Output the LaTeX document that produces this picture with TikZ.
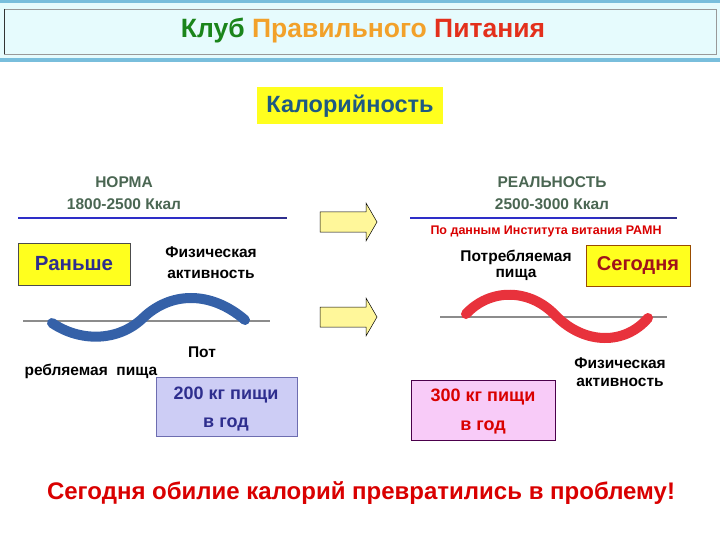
\documentclass[tikz,border=0pt]{standalone}
\usepackage{fontspec}
\setmainfont{Liberation Sans}

\definecolor{bandbg}{HTML}{E6FBFD}
\definecolor{bandline}{HTML}{79BEDC}
\definecolor{klubgreen}{HTML}{1B851B}
\definecolor{kluborange}{HTML}{F2A12A}
\definecolor{klubred}{HTML}{E3301C}
\definecolor{kaltext}{HTML}{1E5A82}
\definecolor{headgray}{HTML}{4A6652}
\definecolor{normblue}{HTML}{2E2EC8}
\definecolor{normdark}{HTML}{2E2E8E}
\definecolor{wblue}{HTML}{3561A8}
\definecolor{wred}{HTML}{E8323C}
\definecolor{boxyellow}{HTML}{FFFF1E}
\definecolor{arrowyellow}{HTML}{FFF79A}
\definecolor{lavender}{HTML}{CDCDF5}
\definecolor{pinkbox}{HTML}{F8CBF8}
\definecolor{darkred}{HTML}{A0121A}

\tikzset{
  big/.style={font=\fontsize{24}{28}\selectfont\bfseries},
  label15/.style={font=\fontsize{15.5}{18}\selectfont\bfseries},
  head15/.style={font=\fontsize{15.5}{18}\selectfont\bfseries, text=headgray},
  boxtext/.style={font=\fontsize{18}{21}\selectfont\bfseries},
  yellowbox/.style={draw=black!70, fill=boxyellow, line width=0.6pt},
  blockarrow/.style={draw=black, fill=arrowyellow, line width=0.5pt, line join=miter},
  foodbox/.style={draw=#1, line width=0.8pt},
}

\begin{document}
\begin{tikzpicture}[x=1pt, y=-1pt]
\useasboundingbox (0,0) rectangle (720,540);

% title band
\fill[bandbg] (0,0) rectangle (720,62);
\draw[bandline, line width=3pt] (0,2)--(720,2);
\draw[bandline, line width=4pt] (0,60)--(720,60);
\draw[black!40, line width=0.8pt] (4,9) rectangle (716,54);
\draw[black!80, line width=1pt] (4,9)--(4,54);
\node[font=\fontsize{26.5}{30}\selectfont\bfseries] (title) at (363,31)
  {\textcolor{klubgreen}{Клуб} \textcolor{kluborange}{Правильного} \textcolor{klubred}{Питания}};

\node[fill=boxyellow, minimum width=186pt, minimum height=37pt,
  font=\fontsize{23.5}{27}\selectfont\bfseries, text=kaltext] (kal) at (350,106) {Калорийность};

% norma / realnost
\node[head15] (norma) at (124,182) {НОРМА};
\node[head15] (normakcal) at (124,204) {1800-2500 Ккал};
\draw[normblue, line width=1.5pt] (18,218)--(212,218);
\draw[normdark, line width=2.8pt] (210,218)--(287,218);

\node[head15] (real) at (552,182) {РЕАЛЬНОСТЬ};
\node[head15] (realkcal) at (552,204) {2500-3000 Ккал};
\draw[normblue, line width=1.5pt] (410,218)--(602,218);
\draw[normdark, line width=2.8pt] (600,218)--(677,218);
\node[font=\fontsize{12.5}{15}\selectfont\bfseries, text=red!85!black] (ramn) at (546,231) {По данным Института витания РАМН};

% arrows
\draw[blockarrow] (320,212)--(366,212)--(366,203)--(377,222)--(366,241)--(366,232)--(320,232)--cycle;
\draw[blockarrow] (320,307)--(366,307)--(366,298)--(377,317)--(366,336)--(366,327)--(320,327)--cycle;

% left side
\node[yellowbox, minimum width=112pt, minimum height=42pt,
  font=\fontsize{20.5}{24}\selectfont\bfseries, text=normdark] (before) at (74,264) {Раньше};
\node[label15] (phys1) at (211,252) {Физическая};
\node[label15] (phys1b) at (211,274) {активность};

\draw[black!45, line width=2.5pt] (23,321)--(270,321);
\draw[wblue, line width=10pt, line cap=round]
  (52,323) .. controls (80,342) and (118,342) .. (143,318)
  .. controls (170,292) and (210,290) .. (245,320);

\node[label15] (sweat) at (202,352) {Пот};
\node[label15, anchor=west] (food1) at (21,371) {ребляемая \ пища};
\draw[foodbox=normdark!70, fill=lavender] (156,377) rectangle (297,436);
\node[boxtext, text=normdark] (t200) at (226,395) {200 кг пищи};
\node[boxtext, text=normdark] (g200) at (226,424) {в год};

% right side
\node[label15] (food2) at (516,257) {Потребляемая};
\node[label15] (food2b) at (516,275) {пища};
\node[yellowbox, draw=orange!60!black, minimum width=104pt, minimum height=41pt,
  font=\fontsize{20}{24}\selectfont\bfseries, text=darkred] (today) at (638,265.5) {Сегодня};

\draw[black!45, line width=2.5pt] (440,317)--(667,317);
\draw[wred, line width=10pt, line cap=round]
  (466,314) .. controls (490,288) and (530,288) .. (556,316)
  .. controls (585,345) and (625,345) .. (648,318);

\node[label15] (phys2) at (620,363) {Физическая};
\node[label15] (phys2b) at (620,382) {активность};
\draw[foodbox=violet!60!black, fill=pinkbox] (411,380) rectangle (555,440);
\node[boxtext, text=red!85!black] (t300) at (483,397) {300 кг пищи};
\node[boxtext, text=red!85!black] (g300) at (483,427) {в год};

% bottom line
\node[big, text=red!85!black] (problem) at (361,493) {Сегодня обилие калорий превратились в проблему!};

\end{tikzpicture}
\end{document}
